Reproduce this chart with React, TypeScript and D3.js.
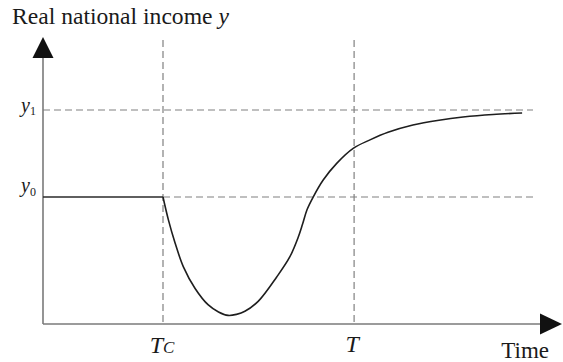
import React from "react";
import * as d3 from "d3";

// ---- data (time units, income units) ----
const T_C = 4;
const T_END = 10.37;
const Y0 = 100;
const Y1 = 168.5;
const X_MAX = 17.3;
const Y_MAX = 226;

const flatTimes = [0, 4];
const flatValues = [100, 100];

const curveTimes = [4, 4.18, 4.4, 4.68, 5.07, 5.51, 5.85, 6.17, 6.45, 6.73, 7.18, 7.79, 8.23, 8.51, 8.65, 8.8, 9.01, 9.34, 9.79, 10.34, 10.9, 11.5, 12.33, 13.2, 14, 15, 15.97];
const curveValues = [100, 82, 64, 45, 28, 15, 9.5, 6.8, 7.6, 10, 18, 37, 53, 68.5, 78.5, 90, 100.2, 113.4, 126.5, 138.3, 145, 151, 156.7, 160.5, 163, 165, 166.1];

const titleMain = "Real national income ";
const titleVar = "y";
const xAxisLabel = "Time";

const W = 563;
const H = 362;
const FONT = "Liberation Serif, DejaVu Serif, Times New Roman, serif";
const tStyle = { fontFamily: FONT };

export default function App() {
  const x = d3.scaleLinear().domain([0, X_MAX]).range([43, 562]);
  const y = d3.scaleLinear().domain([0, Y_MAX]).range([324, 37]);

  const x0 = x(0);
  const yb = y(0);
  const xRight = 533;
  const vTop = 40;

  const curvePts: [number, number][] = curveTimes.map((t, i) => [t, curveValues[i]]);
  const flatPts: [number, number][] = flatTimes.map((t, i) => [t, flatValues[i]]);

  const lineGen = d3
    .line<[number, number]>()
    .x((d) => x(d[0]))
    .y((d) => y(d[1]))
    .curve(d3.curveCatmullRom.alpha(0.5));
  const flatGen = d3
    .line<[number, number]>()
    .x((d) => x(d[0]))
    .y((d) => y(d[1]));

  const axisColor = "#7a7a7a";
  const dashColor = "#808080";
  const dash = "7,4";

  const yTip = y(Y_MAX);
  const xTip = x(X_MAX);

  return (
    <svg
      width={W}
      height={H}
      style={{ position: "absolute", left: 0, top: 0, background: "#fff" }}
    >
      {/* title */}
      <text x={12} y={24} fontSize={23.6} fill="#1a1a1a" style={tStyle}>
        {titleMain}
        <tspan fontStyle="italic">{titleVar}</tspan>
      </text>

      {/* dashed reference lines */}
      <line x1={x0} x2={xRight} y1={y(Y1)} y2={y(Y1)} stroke={dashColor} strokeWidth={1.2} strokeDasharray={dash} />
      <line x1={x(T_C)} x2={xRight} y1={y(Y0)} y2={y(Y0)} stroke={dashColor} strokeWidth={1.2} strokeDasharray={dash} />
      <line x1={x(T_C)} x2={x(T_C)} y1={vTop} y2={yb} stroke={dashColor} strokeWidth={1.2} strokeDasharray={dash} />
      <line x1={x(T_END)} x2={x(T_END)} y1={vTop} y2={yb} stroke={dashColor} strokeWidth={1.2} strokeDasharray={dash} />

      {/* axes */}
      <line x1={x0} x2={x0} y1={yb} y2={yTip + 18} stroke={axisColor} strokeWidth={1.6} />
      <line x1={x0} x2={xTip - 20} y1={yb} y2={yb} stroke={axisColor} strokeWidth={1.6} />
      <path d={`M${x0},${yTip} L${x0 - 10.5},${yTip + 21} L${x0 + 10.5},${yTip + 21} Z`} fill="#111" />
      <path d={`M${xTip},${yb} L${xTip - 22},${yb - 10.5} L${xTip - 22},${yb + 10.5} Z`} fill="#111" />

      {/* income path */}
      <path d={flatGen(flatPts) || ""} fill="none" stroke="#2a2a2a" strokeWidth={1.6} />
      <path d={lineGen(curvePts) || ""} fill="none" stroke="#1e1e1e" strokeWidth={1.6} />

      {/* y labels */}
      <text x={36} y={112} fontSize={20} textAnchor="end" fill="#1a1a1a" style={tStyle}>
        <tspan fontStyle="italic">y</tspan>
        <tspan fontSize={12} dy={3}>1</tspan>
      </text>
      <text x={36} y={192} fontSize={20} textAnchor="end" fill="#1a1a1a" style={tStyle}>
        <tspan fontStyle="italic">y</tspan>
        <tspan fontSize={12} dy={4}>0</tspan>
      </text>

      {/* x labels */}
      <text x={x(T_C) - 1} y={353} fontSize={24} textAnchor="middle" fontStyle="italic" fill="#1a1a1a" style={tStyle}>
        T<tspan fontSize={17}>C</tspan>
      </text>
      <text x={x(T_END) - 2} y={352} fontSize={24} textAnchor="middle" fontStyle="italic" fill="#1a1a1a" style={tStyle}>
        T
      </text>
      <text x={549} y={358} fontSize={23} textAnchor="end" fill="#1a1a1a" style={tStyle}>
        {xAxisLabel}
      </text>
    </svg>
  );
}
